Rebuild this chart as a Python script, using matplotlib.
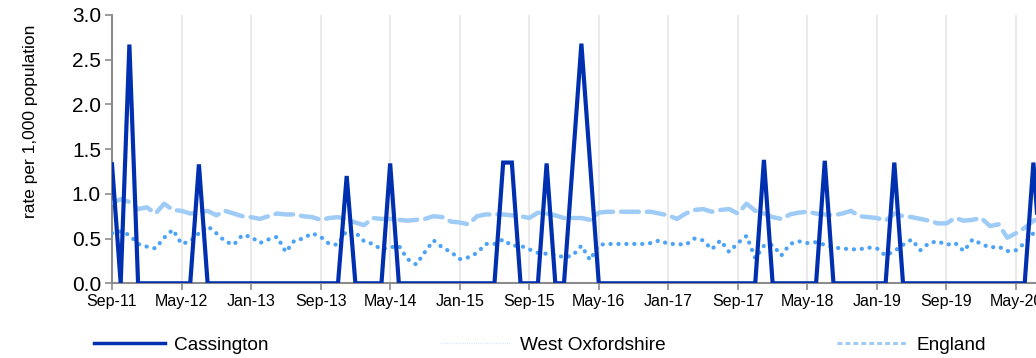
import matplotlib
matplotlib.use("Agg")
import matplotlib.pyplot as plt
import numpy as np
import pandas as pd
from matplotlib.lines import Line2D

plt.rcParams['font.family'] = ['Liberation Sans', 'DejaVu Sans']

# monthly rates per 1,000 population, Sep-2011 onwards
months = pd.date_range("2011-09-01", periods=108, freq="MS")

cassington = [
    1.33, 0, 2.67, 0, 0, 0, 0, 0, 0, 0, 1.33, 0,
    0, 0, 0, 0, 0, 0, 0, 0, 0, 0, 0, 0,
    0, 0, 0, 1.20, 0, 0, 0, 0, 1.34, 0, 0, 0,
    0, 0, 0, 0, 0, 0, 0, 0, 0, 1.35, 1.35, 0,
    0, 0, 1.34, 0, 0, 1.34, 2.68, 1.34, 0, 0, 0, 0,
    0, 0, 0, 0, 0, 0, 0, 0, 0, 0, 0, 0,
    0, 0, 0, 1.38, 0, 0, 0, 0, 0, 0, 1.37, 0,
    0, 0, 0, 0, 0, 0, 1.35, 0, 0, 0, 0, 0,
    0, 0, 0, 0, 0, 0, 0, 0, 0, 0, 1.35, 0,
]

west_oxfordshire = [
    0.56, 0.58, 0.54, 0.44, 0.41, 0.39, 0.51, 0.60, 0.44, 0.47, 0.56, 0.64,
    0.56, 0.47, 0.43, 0.54, 0.52, 0.45, 0.49, 0.52, 0.35, 0.48, 0.50, 0.56,
    0.52, 0.44, 0.43, 0.59, 0.57, 0.47, 0.44, 0.38, 0.40, 0.42, 0.27, 0.21,
    0.35, 0.48, 0.40, 0.35, 0.27, 0.29, 0.34, 0.44, 0.44, 0.49, 0.42, 0.42,
    0.38, 0.34, 0.33, 0.32, 0.29, 0.31, 0.42, 0.26, 0.43, 0.44, 0.44, 0.44,
    0.44, 0.44, 0.45, 0.48, 0.44, 0.44, 0.43, 0.50, 0.48, 0.38, 0.48, 0.35,
    0.45, 0.53, 0.28, 0.42, 0.43, 0.31, 0.44, 0.47, 0.45, 0.46, 0.43, 0.40,
    0.39, 0.38, 0.38, 0.40, 0.39, 0.31, 0.36, 0.43, 0.49, 0.37, 0.45, 0.47,
    0.43, 0.45, 0.36, 0.49, 0.44, 0.40, 0.41, 0.36, 0.37, 0.45, 0.56, 0.58,
]

england = [
    0.90, 0.94, 0.91, 0.83, 0.85, 0.78, 0.89, 0.82, 0.81, 0.78, 0.79, 0.81,
    0.76, 0.81, 0.78, 0.75, 0.74, 0.72, 0.75, 0.78, 0.77, 0.77, 0.75, 0.74,
    0.71, 0.73, 0.74, 0.71, 0.68, 0.65, 0.73, 0.72, 0.72, 0.71, 0.70, 0.71,
    0.72, 0.75, 0.74, 0.69, 0.68, 0.66, 0.75, 0.77, 0.77, 0.77, 0.76, 0.75,
    0.73, 0.79, 0.78, 0.76, 0.73, 0.73, 0.73, 0.71, 0.79, 0.80, 0.80, 0.80,
    0.80, 0.80, 0.80, 0.78, 0.76, 0.72, 0.78, 0.82, 0.83, 0.80, 0.82, 0.83,
    0.78, 0.89, 0.81, 0.78, 0.74, 0.72, 0.77, 0.79, 0.80, 0.78, 0.77, 0.76,
    0.78, 0.81, 0.75, 0.74, 0.73, 0.70, 0.78, 0.75, 0.74, 0.72, 0.70, 0.67,
    0.67, 0.73, 0.70, 0.71, 0.73, 0.64, 0.66, 0.51, 0.56, 0.62, 0.70, 0.72,
]

tick_step = 8
tick_labels = [d.strftime("%b-%y") for d in months[::tick_step]]

dark_blue = "#0030b0"
mid_blue = "#4da3f5"
light_blue = "#9fcbf7"

fig = plt.figure(figsize=(10.36, 3.58), dpi=100)
ax = fig.add_axes([112 / 1036, 1 - 283.3 / 358, 924 / 1036, (283.3 - 15) / 358])

x = np.arange(len(months))
ax.plot(x, england, color=light_blue, lw=3.2, linestyle=(0, (4, 1.8)),
        solid_capstyle="round", dash_capstyle="round", zorder=3)
ax.plot(x, west_oxfordshire, color=mid_blue, lw=3.0, linestyle=(0, (0.05, 1.85)),
        dash_capstyle="round", zorder=4)
ax.plot(x, cassington, color=dark_blue, lw=3.0, solid_joinstyle="miter", zorder=5)

ax.set_ylim(0, 3.0)
ax.set_yticks(np.arange(0, 3.01, 0.5))
ax.set_yticklabels([f"{v:.1f}" for v in np.arange(0, 3.01, 0.5)], fontsize=15)
ax.set_xlim(0, 106.3)
ax.set_xticks(x[::tick_step])
ax.set_xticklabels(tick_labels, fontsize=11.5)
ax.xaxis.grid(True, color="#e6e6e6", lw=1.2)
ax.set_axisbelow(True)

for side in ("top", "right"):
    ax.spines[side].set_visible(False)
for side in ("left", "bottom"):
    ax.spines[side].set_color("#8c8c8c")
    ax.spines[side].set_linewidth(1.5)
ax.tick_params(axis="both", direction="out", length=5, width=1.2, color="#8c8c8c", pad=3)

ax.set_ylabel("rate per 1,000 population", fontsize=12.5)
ax.yaxis.set_label_coords(-0.08, 0.605)

handles = [
    Line2D([], [], color=dark_blue, lw=2.5),
    Line2D([], [], color="#cfe4fa", lw=1.0, linestyle=(0, (0.6, 1.0))),
    Line2D([], [], color=light_blue, lw=2.2, linestyle=(0, (1.6, 1.0))),
]
fig.legend(handles, ["Cassington", "West Oxfordshire", "England"], ncol=3,
           loc="center left", bbox_to_anchor=(77 / 1036, 13 / 358), frameon=False,
           fontsize=13.7, handlelength=3.7, handletextpad=0.5, columnspacing=9.0)

fig.savefig("out.png", dpi=100)
